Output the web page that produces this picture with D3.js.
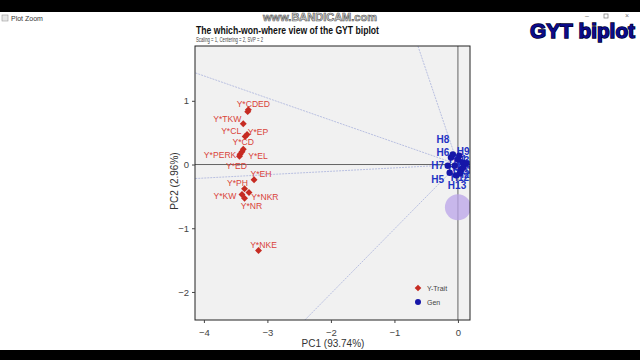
<!DOCTYPE html>
<html><head><meta charset="utf-8">
<script src="https://cdn.jsdelivr.net/npm/d3@7"></script>
<style>body{margin:0;background:#fff}svg{display:block;font-family:"Liberation Sans",Arial,sans-serif}</style>
</head><body>
<svg id="c" width="640" height="360"></svg>
<script>
// ---- data ----
const traits = ["Y*CDED","Y*TKW","Y*CL","Y*EP","Y*CD","Y*PERK","Y*EL","Y*ED","Y*EH","Y*PH","Y*KW","Y*NKR","Y*NR","Y*NKE"];
const traitPC1 = [-3.30,-3.38,-3.35,-3.32,-3.38,-3.43,-3.40,-3.44,-3.21,-3.36,-3.40,-3.29,-3.36,-3.14];
const traitPC2 = [0.86,0.64,0.44,0.47,0.24,0.16,0.20,0.13,-0.24,-0.38,-0.47,-0.44,-0.53,-1.35];
const gens = ["H1","H2","H3","H4","H5","H6","H7","H8","H9","H10","H11","H12","H13"];
const genPC1 = [-0.05,0.05,0.08,0.13,-0.13,-0.11,-0.16,-0.08,0.02,0.08,0.00,0.03,-0.03];
const genPC2 = [-0.02,-0.08,0.03,0.02,-0.13,0.11,-0.02,0.16,0.14,-0.05,0.08,-0.14,-0.17];
// rays from origin (end points, PC1/PC2 units)
const rayPC1 = [-4.14,-4.14,-0.63,-2.41];
const rayPC2 = [1.44,-0.22,1.86,-2.44];
const xTicks = [-4,-3,-2,-1,0];
const yTicks = [-2,-1,0,1];
const avgPoint = [0,-0.67];
// label nudges (px) – layout only
const traitNudge = [[5,-6],[-16,-5],[-14,-5],[11,-3],[0,-7],[-20,1],[16,4],[-3,10],[7,-6],[-7,-6],[-17,2],[16,4],[7,8],[5,-6]];
const genNudge = [[0,2],[2,5],[0,-2],[-2,2],[-12,7],[-8,-5],[-10,0],[-10,-15],[4,-4],[-1,3],[0,0],[0,4],[1,10]];

const svg = d3.select("#c");
// screenshot chrome
svg.append("rect").attr("x",0).attr("y",0).attr("width",640).attr("height",12).attr("fill","#000");
svg.append("rect").attr("x",0).attr("y",350).attr("width",640).attr("height",10).attr("fill","#000");
svg.append("text").attr("x",320).attr("y",21).attr("text-anchor","middle").attr("font-size",11).attr("font-weight","bold")
  .attr("fill","#d8d8d8").attr("stroke","#555").attr("stroke-width",0.6).text("www.BANDICAM.com");
svg.append("rect").attr("x",2).attr("y",15).attr("width",6).attr("height",6).attr("fill","#e8e8e8").attr("stroke","#999").attr("stroke-width",0.6);
svg.append("text").attr("x",11).attr("y",21).attr("font-size",7).attr("fill","#333").text("Plot Zoom");
svg.append("text").attr("x",585).attr("y",18).attr("font-size",7).attr("fill","#777").text("–");
svg.append("rect").attr("x",604).attr("y",14).attr("width",4).attr("height",4).attr("fill","none").attr("stroke","#777").attr("stroke-width",0.7);
svg.append("text").attr("x",625).attr("y",18).attr("font-size",7).attr("fill","#777").text("×");
svg.append("text").attr("x",530).attr("y",38).attr("font-size",20).attr("font-weight","bold")
  .attr("textLength",105).attr("lengthAdjust","spacingAndGlyphs")
  .attr("fill","#0b0b8a").attr("stroke","#000030").attr("stroke-width",1.4).attr("paint-order","stroke")
  .attr("font-family","'Liberation Sans',Arial").text("GYT biplot");

// chart
const L=195,R=470,T=46,B=320;
const x = d3.scaleLinear().domain([-4.14,0.19]).range([L,R]);
const y = d3.scaleLinear().domain([1.86,-2.44]).range([T,B]);

svg.append("text").attr("x",196).attr("y",34).attr("font-size",10).attr("font-weight","bold").attr("fill","#111")
  .attr("textLength",183).attr("lengthAdjust","spacingAndGlyphs").text("The which-won-where view of the GYT biplot");
svg.append("text").attr("x",196).attr("y",42).attr("font-size",6.8).attr("fill","#444")
  .attr("textLength",67).attr("lengthAdjust","spacingAndGlyphs").text("Scaling = 1, Centering = 2, SVP = 2");

svg.append("rect").attr("x",L).attr("y",T).attr("width",R-L).attr("height",B-T).attr("fill","#f1f1f1");
svg.append("defs").append("clipPath").attr("id","clip").append("rect").attr("x",L).attr("y",T).attr("width",R-L).attr("height",B-T);
const g = svg.append("g").attr("clip-path","url(#clip)");

// rays
g.selectAll("line.ray").data(rayPC1).join("line").attr("class","ray")
  .attr("x1",x(0)).attr("y1",y(0)).attr("x2",(d)=>x(d)).attr("y2",(d,i)=>y(rayPC2[i]))
  .attr("stroke","#a9b3dc").attr("stroke-width",0.8).attr("stroke-dasharray","2,1");
// axes lines at zero
g.append("line").attr("x1",L).attr("x2",R).attr("y1",y(0)).attr("y2",y(0)).attr("stroke","#555").attr("stroke-width",0.9);
g.append("line").attr("x1",x(0)).attr("x2",x(0)).attr("y1",T).attr("y2",B).attr("stroke","#555").attr("stroke-width",0.9);
// average circle
g.append("circle").attr("cx",x(avgPoint[0])).attr("cy",y(avgPoint[1])).attr("r",13).attr("fill","#b9a3e8").attr("opacity",0.75);

// trait points
g.selectAll("path.tr").data(traits).join("path").attr("class","tr")
  .attr("d",d3.symbol(d3.symbolSquare,24))
  .attr("transform",(d,i)=>`translate(${x(traitPC1[i])},${y(traitPC2[i])}) rotate(45)`)
  .attr("fill","#c62b22");
g.append("path").attr("d",d3.symbol(d3.symbolSquare,24)).attr("transform",`translate(${x(-3.31)},${y(0.83)}) rotate(45)`).attr("fill","#c62b22");
g.selectAll("text.tr").data(traits).join("text").attr("class","tr")
  .attr("x",(d,i)=>x(traitPC1[i])+traitNudge[i][0]).attr("y",(d,i)=>y(traitPC2[i])+traitNudge[i][1]+3)
  .attr("text-anchor","middle").attr("font-size",8.6).attr("fill","#d9433a").text(d=>d);

// genotype points
g.selectAll("text.gn").data(gens).join("text").attr("class","gn")
  .attr("x",(d,i)=>x(genPC1[i])+genNudge[i][0]).attr("y",(d,i)=>y(genPC2[i])+genNudge[i][1]+3.5)
  .attr("text-anchor","middle").attr("font-size",10).attr("font-weight","bold").attr("fill","#1f33c4").text(d=>d);
g.selectAll("circle.gn").data(gens).join("circle").attr("class","gn")
  .attr("cx",(d,i)=>x(genPC1[i])).attr("cy",(d,i)=>y(genPC2[i])).attr("r",3.2).attr("fill","#1616a8");

// border
svg.append("rect").attr("x",L).attr("y",T).attr("width",R-L).attr("height",B-T).attr("fill","none").attr("stroke","#222").attr("stroke-width",1);

// axes
const xa = svg.append("g").attr("transform",`translate(0,${B})`).call(d3.axisBottom(x).tickValues(xTicks).tickSize(3).tickFormat(d3.format("d")));
const ya = svg.append("g").attr("transform",`translate(${L},0)`).call(d3.axisLeft(y).tickValues(yTicks).tickSize(3).tickFormat(d3.format("d")));
[xa,ya].forEach(a=>{a.select(".domain").remove();a.selectAll("line").attr("stroke","#444");
  a.selectAll("text").attr("fill","#444").attr("font-size",9.5).attr("font-family","'Liberation Sans',Arial");});
xa.selectAll("text").attr("dy","1.1em");
svg.append("text").attr("x",333).attr("y",347).attr("text-anchor","middle").attr("font-size",10).attr("fill","#333").text("PC1 (93.74%)");
svg.append("text").attr("transform","translate(178,181) rotate(-90)").attr("text-anchor","middle").attr("font-size",10).attr("fill","#333").text("PC2 (2.96%)");

// legend
const lg = svg.append("g");
lg.append("path").attr("d",d3.symbol(d3.symbolSquare,22)).attr("transform","translate(418,288) rotate(45)").attr("fill","#c62b22");
lg.append("text").attr("x",427).attr("y",291).attr("font-size",7).attr("fill","#444").text("Y-Trait");
lg.append("circle").attr("cx",418).attr("cy",302).attr("r",3).attr("fill","#1616a8");
lg.append("text").attr("x",427).attr("y",305).attr("font-size",7).attr("fill","#444").text("Gen");
</script>
</body></html>
